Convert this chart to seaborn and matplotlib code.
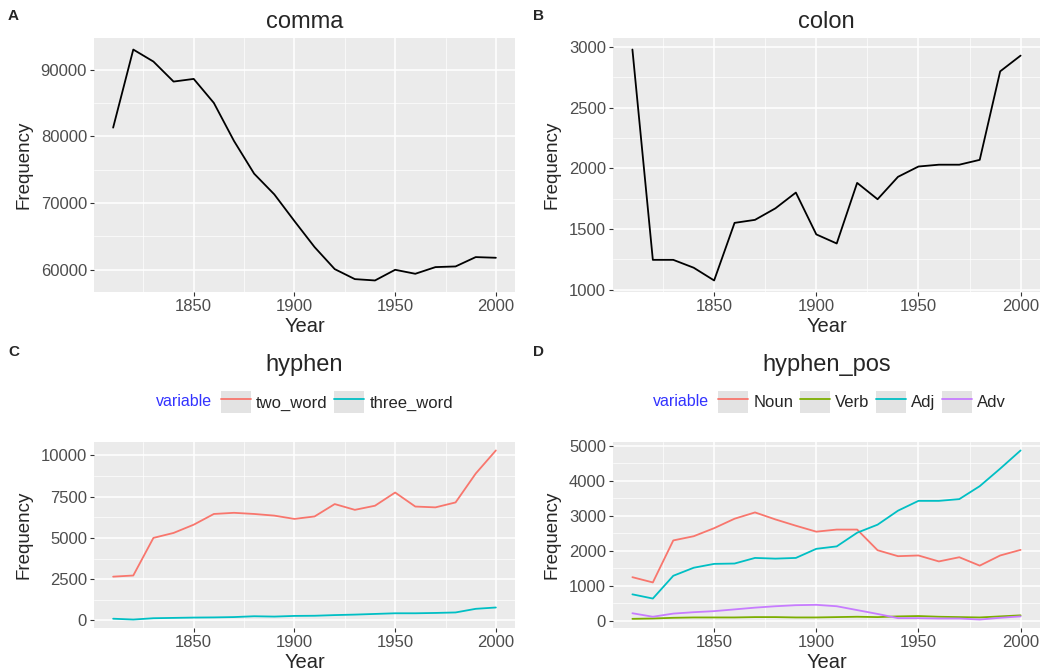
import numpy as np
import pandas as pd
import matplotlib
matplotlib.use("Agg")
import matplotlib.pyplot as plt
import seaborn as sns
from matplotlib.lines import Line2D
from matplotlib.patches import Patch
from matplotlib.ticker import MultipleLocator, FuncFormatter

years = list(range(1810, 2001, 10))

comma = [81300, 93000, 91200, 88200, 88600, 85000, 79300, 74400, 71300, 67300,
         63400, 60100, 58600, 58400, 60000, 59400, 60400, 60500, 61900, 61800]
colon = [2980, 1245, 1245, 1180, 1075, 1550, 1575, 1670, 1800, 1455,
         1380, 1880, 1745, 1930, 2015, 2030, 2030, 2070, 2800, 2930]
two_word = [2650, 2720, 5000, 5300, 5800, 6450, 6520, 6450, 6350, 6150,
            6300, 7050, 6700, 6950, 7750, 6900, 6850, 7150, 8900, 10300]
three_word = [100, 50, 130, 150, 170, 180, 200, 250, 230, 270,
              280, 320, 350, 390, 430, 430, 450, 480, 700, 780]
noun = [1250, 1100, 2300, 2420, 2650, 2920, 3100, 2900, 2720, 2550,
        2610, 2610, 2020, 1850, 1870, 1700, 1820, 1580, 1870, 2030]
verb = [60, 70, 90, 100, 100, 100, 110, 110, 100, 100,
        110, 120, 110, 130, 140, 120, 110, 100, 130, 160]
adj = [760, 640, 1290, 1520, 1630, 1640, 1800, 1780, 1800, 2060,
       2130, 2520, 2750, 3150, 3430, 3430, 3480, 3850, 4350, 4870]
adv = [220, 120, 210, 250, 280, 330, 380, 420, 450, 460,
       420, 310, 200, 80, 80, 70, 70, 40, 90, 130]

hyphen_vars = ["two_word", "three_word"]
pos_vars = ["Noun", "Verb", "Adj", "Adv"]
x_ticks = [1850, 1900, 1950, 2000]

sns.set_theme(style="darkgrid", rc={
    "axes.facecolor": "#EBEBEB",
    "grid.color": "white",
    "axes.edgecolor": "none",
    "xtick.bottom": True, "ytick.left": True,
    "xtick.color": "#333333", "ytick.color": "#333333",
})
plt.rcParams["font.family"] = ["Liberation Sans", "DejaVu Sans"]

fig = plt.figure(figsize=(10.51, 6.70), dpi=100)
W, H = 1051, 670


def add_ax(l, t, r, b):
    return fig.add_axes([l / W, 1 - b / H, (r - l) / W, (b - t) / H])


axA = add_ax(94, 38, 515, 292)
axB = add_ax(613, 38, 1040, 292)
axC = add_ax(94, 442, 515, 628)
axD = add_ax(613, 442, 1040, 628)


def style(ax, title, ystep, yvals, title_y=None):
    lo, hi = min(yvals), max(yvals)
    pad = (hi - lo) * 0.05
    ax.set_ylim(lo - pad, hi + pad)
    ax.set_xlim(1810 - 9.5, 2000 + 9.5)
    ax.set_xticks(x_ticks)
    ax.xaxis.set_minor_locator(MultipleLocator(25))
    ax.yaxis.set_major_locator(MultipleLocator(ystep))
    ax.yaxis.set_minor_locator(MultipleLocator(ystep / 2))
    ax.grid(which="major", color="white", linewidth=1.1)
    ax.grid(which="minor", color="white", linewidth=0.5)
    ax.tick_params(axis="both", which="major", labelsize=12, labelcolor="#4D4D4D",
                   length=3, width=0.8, color="#333333", pad=2)
    ax.tick_params(axis="both", which="minor", length=0)
    ax.set_xlabel("Year", fontsize=14.5, labelpad=2)
    ax.set_ylabel("Frequency", fontsize=13.5, labelpad=6)
    for s in ax.spines.values():
        s.set_visible(False)
    ax.set_title(title, fontsize=17, pad=7, y=title_y if title_y else 1.0)


# Panel A
dfA = pd.DataFrame({"Year": years, "Frequency": comma})
sns.lineplot(data=dfA, x="Year", y="Frequency", ax=axA, color="black", linewidth=1.3)
style(axA, "comma", 10000, comma)
axA.yaxis.set_major_formatter(FuncFormatter(lambda v, p: f"{int(v)}"))

# Panel B
dfB = pd.DataFrame({"Year": years, "Frequency": colon})
sns.lineplot(data=dfB, x="Year", y="Frequency", ax=axB, color="black", linewidth=1.3)
style(axB, "colon", 500, colon)

# Panel C
dfC = pd.DataFrame({"Year": years * 2,
                    "Frequency": two_word + three_word,
                    "variable": ["two_word"] * len(years) + ["three_word"] * len(years)})
palC = ["#F8766D", "#00BFC4"]
sns.lineplot(data=dfC, x="Year", y="Frequency", hue="variable", hue_order=hyphen_vars,
             palette=palC, ax=axC, linewidth=1.3, legend=False)
style(axC, "hyphen", 2500, two_word + three_word, title_y=1.33)

# Panel D
dfD = pd.DataFrame({"Year": years * 4,
                    "Frequency": noun + verb + adj + adv,
                    "variable": sum([[v] * len(years) for v in pos_vars], [])})
palD = ["#F8766D", "#7CAE00", "#00BFC4", "#C77CFF"]
sns.lineplot(data=dfD, x="Year", y="Frequency", hue="variable", hue_order=pos_vars,
             palette=palD, ax=axD, linewidth=1.3, legend=False)
style(axD, "hyphen_pos", 1000, noun + verb + adj + adv, title_y=1.33)


def add_legend(ax, labels, colors, cx):
    handles = [(Patch(facecolor="#E3E3E3", edgecolor="none"),
                Line2D([], [], color=c, linewidth=1.3)) for c in colors]
    leg = fig.legend(handles, labels, ncol=len(labels), loc="center",
                     bbox_to_anchor=(cx / W, 1 - 402 / H), frameon=False,
                     fontsize=12, handlelength=1.8, handleheight=1.6,
                     handletextpad=0.3, columnspacing=0.4, borderpad=0)
    fig.canvas.draw()
    bb = leg.get_window_extent()
    fig.text((bb.x0 - 9) / W, 1 - 402 / H, "variable", color="#3333FF",
             fontsize=11.5, ha="right", va="center")
    return leg


add_legend(axC, hyphen_vars, palC, 337)
add_legend(axD, pos_vars, palD, 862)

for lab, x, y in [("A", 8, 16), ("B", 533, 16), ("C", 8, 352), ("D", 533, 352)]:
    fig.text(x / W, 1 - y / H, lab, fontsize=11, fontweight="bold", ha="left", va="center")

fig.savefig("out.png", dpi=100)
